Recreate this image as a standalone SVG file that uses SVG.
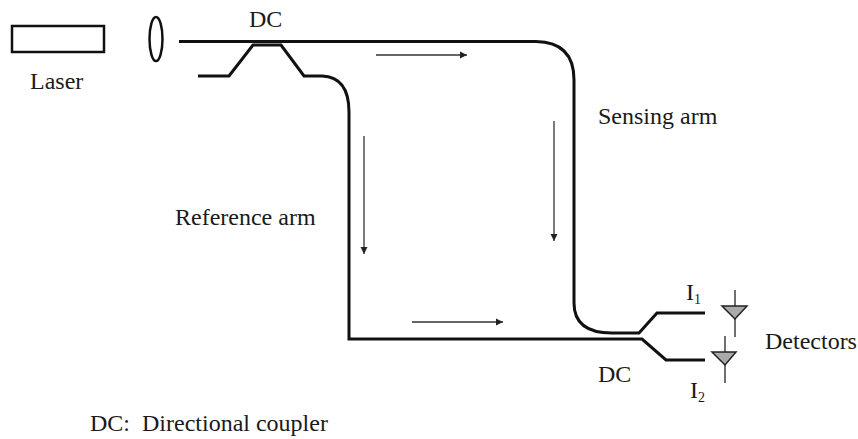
<svg xmlns="http://www.w3.org/2000/svg" width="858" height="439" viewBox="0 0 858 439">
<defs>
<marker id="ah" markerUnits="userSpaceOnUse" markerWidth="8" markerHeight="8" refX="7" refY="4" orient="auto"><path d="M0 0.500L7 4L0 7.500Z" fill="#222"/></marker>
</defs>
<style>
text{font-family:"Liberation Serif","Times New Roman",serif;font-size:24px;fill:#1a1a1a}
.fiber{fill:none;stroke:#111;stroke-width:3}
.flow{fill:none;stroke:#333;stroke-width:1.300;marker-end:url(#ah)}
.det{fill:none;stroke:#222;stroke-width:1.300}
.tri{fill:#aaa;stroke:#222;stroke-width:1.500}
</style>
<rect width="858" height="439" fill="#fff"/>
<g id="laser"><rect x="12" y="26" width="92" height="26" fill="none" stroke="#111" stroke-width="2.500"/><text x="30" y="89">Laser</text></g>
<g id="lens"><ellipse cx="156" cy="39" rx="6.500" ry="22" fill="none" stroke="#111" stroke-width="2.500"/></g>
<g id="connectors">
<path class="fiber" d="M179 41.500H536Q574 42 574 80V303Q574 333 612 333H639L657 313H705"/>
<path class="fiber" d="M198 76H229L253 45H281L304 76H322Q349 77 349 112V339H642L666 360H705"/>
<path class="flow" d="M376 55H467"/>
<path class="flow" d="M364 136V254"/>
<path class="flow" d="M554 121V241"/>
<path class="flow" d="M412 322H503"/>
</g>
<g id="detector-1"><path class="det" d="M735 290V337"/><path class="tri" d="M722 306H747L735 319Z"/></g>
<g id="detector-2"><path class="det" d="M725 336V383"/><path class="tri" d="M712 352H736L725 365Z"/></g>
<g id="labels">
<text x="249" y="27">DC</text>
<text x="598" y="124">Sensing arm</text>
<text x="175" y="225">Reference arm</text>
<text x="598" y="382">DC</text>
<text x="765" y="349">Detectors</text>
<text x="686" y="300">I<tspan font-size="14" dy="4">1</tspan></text>
<text x="690" y="398">I<tspan font-size="14" dy="4">2</tspan></text>
<text x="90" y="431" xml:space="preserve">DC:  Directional coupler</text>
</g>
</svg>
